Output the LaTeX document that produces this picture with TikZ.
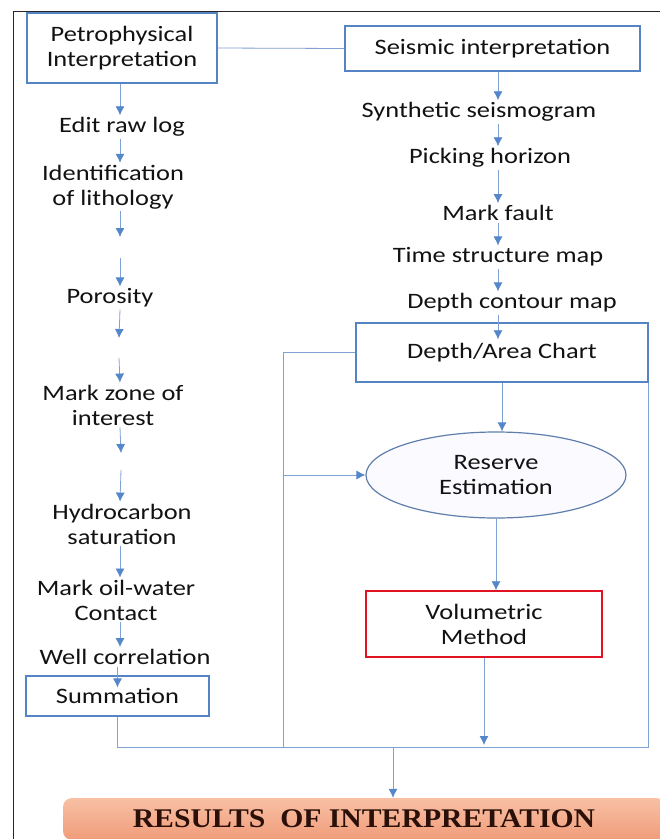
\documentclass[tikz,border=0pt]{standalone}
\usepackage{fontspec}
\setmainfont{Carlito}[FakeStretch=1.2]
\newfontfamily\resfont{Liberation Serif}[FakeStretch=1.1]
\usetikzlibrary{shapes.geometric,arrows.meta}
\definecolor{boxc}{RGB}{84,132,196}
\definecolor{linec}{RGB}{128,162,210}
\definecolor{tipc}{RGB}{84,134,202}
\definecolor{ellc}{RGB}{96,126,172}
\definecolor{redc}{RGB}{226,18,34}
\definecolor{txtc}{RGB}{18,18,18}
\definecolor{resc}{RGB}{42,16,8}
\definecolor{restop}{RGB}{248,192,164}
\definecolor{resbot}{RGB}{240,156,122}
\begin{document}
\begin{tikzpicture}[x=1pt,y=-1pt]
\tikzstyle{txt}=[font=\fontsize{22}{25}\selectfont,text=txtc,align=center,inner sep=2pt]
\tikzstyle{box}=[txt,draw=boxc,line width=1.2pt,fill=white]
\tikzstyle{ln}=[draw=linec,line width=0.8pt]
\tikzstyle{arr}=[ln,-{Latex[length=9pt,width=9pt,color=tipc]}]
\useasboundingbox (0,0) rectangle (660,839);
\draw[line width=1pt,black!85] (13,839) -- (13,11) -- (660,11);
\node (petro) [box,line width=1.6pt,minimum width=190,minimum height=70] at (122,48) {Petrophysical\\Interpretation};
\node (seis) [box,minimum width=295,minimum height=45] at (492.5,48.5) {Seismic interpretation};
\node (edit) [txt] at (122,127) {Edit raw log};
\node (litho) [txt] at (113,187) {Identification\\of lithology};
\node (poro) [txt] at (110,298) {Porosity};
\node (zone) [txt] at (113,405) {Mark zone of\\interest};
\node (hydro) [txt] at (122,524) {Hydrocarbon\\saturation};
\node (owc) [txt] at (116,600) {Mark oil-water\\Contact};
\node (wellc) [txt] at (125,657) {Well correlation};
\node (summ) [box,minimum width=183,minimum height=40] at (117.5,696) {Summation};
\node (synth) [txt] at (479,112) {Synthetic seismogram};
\node (pick) [txt] at (490,158) {Picking horizon};
\node (fault) [txt] at (498,213) {Mark fault};
\node (tsm) [txt] at (498,257) {Time structure map};
\node (dcm) [txt] at (512,303) {Depth contour map};
\node (area) [box,line width=1.4pt,minimum width=292,minimum height=59] at (502,352.5) {Depth/Area Chart};
\node (reserve) [txt,ellipse,draw=ellc,line width=1.2pt,fill=blue!2,minimum width=260,minimum height=86,inner sep=0pt] at (496,475) {Reserve\\Estimation};
\node (vol) [box,draw=redc,line width=1.4pt,minimum width=236,minimum height=66] at (484,624) {Volumetric\\Method};
\node (results) [rounded corners=9pt,top color=restop,bottom color=resbot,minimum width=602,minimum height=42,text=resc,font=\resfont\bfseries\fontsize{27}{30}\selectfont] at (364,819) {RESULTS~ OF INTERPRETATION};
\coordinate (lc) at (120,0);
\coordinate (rc) at (498,0);
\coordinate (g1) at (120,237);
\coordinate (g2) at (120,258);
\coordinate (g3) at (119,338);
\coordinate (g4) at (119,358);
\coordinate (g5) at (121,453);
\coordinate (g6) at (121,470);
\coordinate (bot) at (0,747);
\coordinate (fbot) at (283,747);
\coordinate (rj) at (393,747);
\draw[ln] (petro.east) -- (seis.west);
\draw[arr] (petro.south -| lc) -- (edit.north -| lc);
\draw[arr] (edit.south -| lc) -- (litho.north -| lc);
\draw[arr] (litho.south -| lc) -- (g1);
\draw[arr] (g2) -- (poro.north -| lc);
\draw[arr] (poro.south -| lc) -- (g3);
\draw[arr] (g4) -- (zone.north -| lc);
\draw[arr] (zone.south -| lc) -- (g5);
\draw[arr] (g6) -- (hydro.north -| lc);
\draw[arr] (hydro.south -| lc) -- (owc.north -| lc);
\draw[arr] (owc.south -| lc) -- (wellc.north -| lc);
\draw[arr,shorten >=-12pt] (wellc.south -| summ) -- (summ.north);
\draw[arr] (seis.south -| rc) -- (synth.north -| rc);
\draw[arr] (synth.south -| rc) -- (pick.north -| rc);
\draw[arr] (pick.south -| rc) -- (fault.north -| rc);
\draw[arr] (fault.south -| rc) -- (tsm.north -| rc);
\draw[arr] (tsm.south -| rc) -- (dcm.north -| rc);
\draw[arr,shorten >=-17pt] (dcm.south -| rc) -- (area.north -| rc);
\draw[arr] (area.south) -- (area.south |- reserve.north);
\draw[arr] (reserve.south) -- (reserve.south |- vol.north);
\draw[arr,shorten >=2pt] (vol.south) -- (vol.south |- bot);
\draw[ln] (area.west) -| (fbot);
\draw[arr] (fbot |- reserve.west) -- (reserve.west);
\draw[ln] (summ.south) |- (area.south east |- bot) -- (area.south east);
\draw[arr] (rj) -- (rj |- results.north);
\end{tikzpicture}
\end{document}
